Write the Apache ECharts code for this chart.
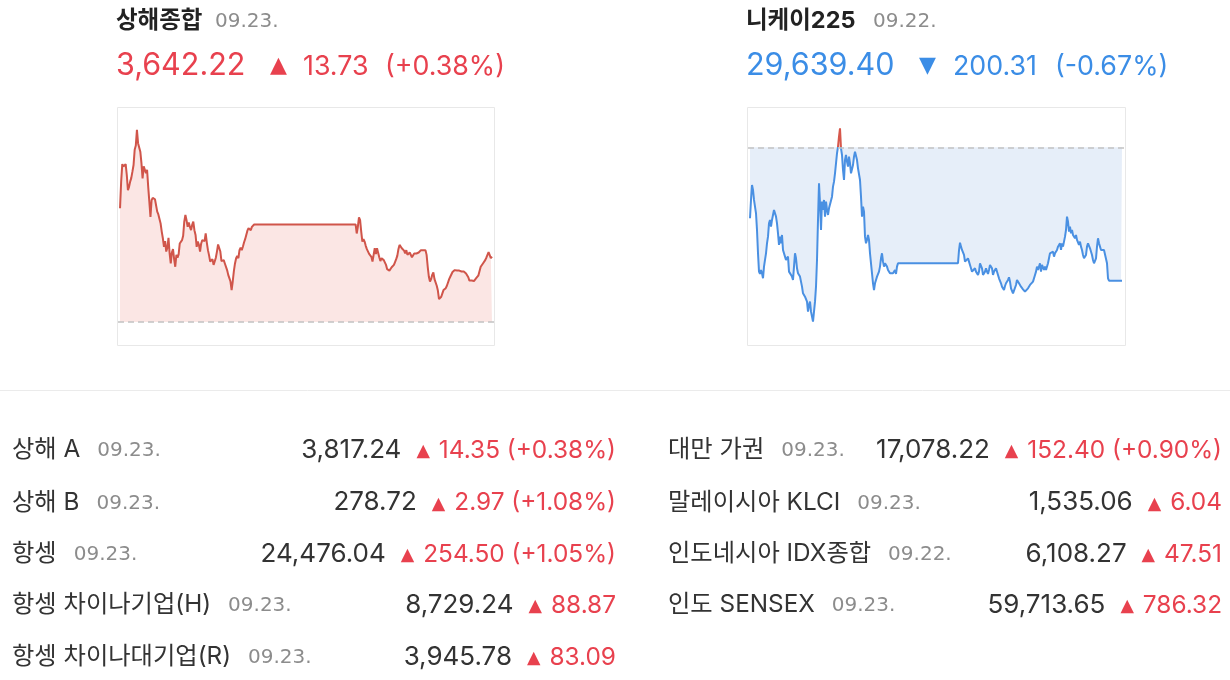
<!DOCTYPE html>
<html><head><meta charset="utf-8">
<script src="https://cdn.jsdelivr.net/npm/echarts@6/dist/echarts.min.js"></script>
<style>html,body{margin:0;padding:0;background:#fff}#c{width:1230px;height:680px}</style>
</head><body><div id="c"></div>
<script>
// ---------- header data ----------
const shTitle = '상해종합', shDate = '09.23.', shPrice = '3,642.22', shChange = '13.73', shPct = '(+0.38%)';
const nkTitle = '니케이225', nkDate = '09.22.', nkPrice = '29,639.40', nkChange = '200.31', nkPct = '(-0.67%)';
const shPrevClose = 3628.49;
const nkPrevClose = 29839.71;

// ---------- Shanghai intraday (minutes from 09:30) ----------
const shAmStart = 0;
const shAm = [3652.4,3658.0,3661.7,3661.2,3660.8,3661.7,3659.4,3656.2,3656.9,3658.0,
3658.8,3660.1,3661.5,3664.7,3665.6,3668.9,3666.1,3665.2,3664.3,3661.9,
3658.7,3661.2,3661.4,3659.8,3660.5,3656.9,3653.8,3650.6,3654.1,3654.6,
3654.5,3654.3,3654.1,3651.7,3651.1,3651.0,3649.2,3647.5,3646.1,3644.3,
3645.5,3643.3,3644.1,3646.2,3642.9,3640.8,3643.1,3643.8,3641.7,3640.1,
3642.6,3642.0,3642.7,3645.0,3644.8,3645.7,3646.6,3649.6,3651.0,3649.9,
3648.5,3649.4,3648.5,3647.8,3648.9,3649.6,3647.8,3646.8,3644.3,3645.4,
3644.7,3643.3,3645.0,3645.7,3646.1,3645.5,3647.1,3645.2,3643.6,3642.5,
3641.2,3640.8,3641.7,3640.5,3641.2,3642.0,3643.3,3644.8,3645.0,3643.3,
3641.3,3641.2,3641.5,3640.8,3640.6,3639.4,3638.4,3637.7,3637.0,3635.2,
3637.0,3639.2,3640.8,3641.9,3642.4,3641.9,3643.6,3644.1,3643.6,3644.3,
3645.2,3645.9,3646.8,3647.7,3648.2,3648.2,3647.8,3648.5,3648.9,3649.0,3649.0];
const shPmStart = 209;
const shPm = [3649.0,3647.1,3648.5,3650.5,3649.9,3647.5,3645.4,3645.9,3645.4,3644.5,
3643.8,3644.0,3642.8,3642.9,3642.2,3641.2,3642.6,3644.0,3642.8,3644.0,
3644.3,3642.1,3641.3,3641.9,3641.9,3641.5,3641.2,3640.5,3639.6,3639.3,
3639.3,3639.4,3640.0,3640.1,3640.5,3641.1,3641.7,3642.4,3643.8,3644.7,
3644.9,3644.0,3643.8,3643.5,3642.9,3643.6,3642.6,3642.4,3643.1,3642.9,
3642.1,3642.1,3642.9,3643.3,3642.9,3643.3,3643.1,3643.5,3643.6,3643.8,
3643.6,3643.3,3643.6,3642.6,3640.1,3638.0,3637.0,3637.5,3638.4,3638.9,
3637.5,3637.2,3636.1,3635.1,3633.3,3632.9,3633.8,3634.5,3635.2,3635.0,
3635.6,3636.1,3636.8,3637.5,3638.0,3638.4,3639.0,3639.3,3639.4,3639.3,
3639.3,3639.4,3639.3,3639.1,3639.1,3639.2,3639.1,3638.7,3638.7,3638.4,
3637.9,3637.2,3637.0,3637.2,3637.0,3637.1,3637.3,3637.7,3638.0,3638.3,
3638.7,3640.1,3640.5,3640.8,3641.2,3641.5,3642.0,3642.6,3643.2,3642.9,3641.9,3642.22];

// ---------- Nikkei intraday (minutes from 09:00) ----------
const nkAmStart = 0;
const nkAm = [29733.1,29760.6,29783.1,29775.6,29760.6,29750.6,29740.6,29715.5,29680.5,29653.0,
29649.5,29655.5,29650.5,29643.0,29660.5,29670.5,29680.5,29695.5,29705.5,29725.5,
29730.6,29720.5,29730.6,29738.1,29745.6,29740.6,29735.6,29725.5,29710.5,29693.0,
29705.5,29695.5,29708.0,29685.5,29688.0,29675.5,29670.5,29673.0,29675.5,29653.0,
29650.5,29655.5,29645.5,29640.5,29660.5,29680.5,29673.0,29658.0,29650.5,29648.0,
29645.5,29638.0,29630.4,29620.4,29617.9,29615.4,29612.9,29607.9,29592.9,29602.9,
29607.9,29592.9,29585.4,29577.9,29592.9,29607.9,29630.4,29670.5,29730.6,29785.6,
29755.6,29715.5,29758.1,29745.6,29760.6,29735.6,29758.1,29745.6,29738.1,29748.1,
29745.6,29750.6,29765.6,29780.6,29788.1,29800.6,29815.6,29830.6,29840.7,29855.7,
29868.2,29838.2,29828.1,29805.6,29790.6,29820.6,29828.1,29818.1,29810.6,29825.6,
29815.6,29800.6,29803.1,29813.1,29825.6,29833.2,29835.7,29820.6,29808.1,29805.6,
29790.6,29765.6,29735.6,29750.6,29743.1,29705.5,29695.5,29700.5,29708.0,29700.5,
29680.5,29665.5,29650.5,29635.4,29625.4,29635.4,29640.5,29645.5,29648.0,29653.0,
29660.5,29673.0,29680.5,29668.0,29660.5,29665.5,29665.5,29660.5,29655.5,29653.0,
29650.5,29649.5,29653.0,29650.5,29653.0,29655.5,29649.5,29660.5,29665.5,29665.5];
const nkPmStart = 208;
const nkPm = [29665.5,29685.0,29696.5,29690.5,29685.5,29688.0,29678.0,29668.0,29665.5,29670.5,
29673.0,29668.0,29663.0,29658.0,29653.0,29650.5,29653.0,29658.0,29653.0,29650.5,
29648.0,29653.0,29665.5,29668.0,29658.0,29648.0,29650.5,29653.0,29658.0,29653.0,
29649.5,29655.5,29663.0,29665.5,29658.0,29648.0,29653.0,29655.5,29658.0,29655.5,
29648.0,29643.0,29640.5,29635.5,29630.4,29627.9,29625.4,29631.4,29635.5,29633.0,
29640.5,29644.5,29638.0,29627.9,29625.4,29620.4,29617.9,29622.9,29632.9,29640.5,
29638.0,29635.5,29633.0,29630.4,29628.9,29626.4,29624.4,29622.9,29620.4,29625.4,
29627.9,29629.4,29633.0,29631.4,29635.5,29638.0,29640.5,29648.0,29653.0,29660.5,
29655.5,29658.0,29665.5,29653.0,29663.0,29665.5,29655.5,29660.5,29655.5,29658.0,
29665.5,29673.0,29680.5,29683.0,29678.0,29683.0,29675.5,29680.5,29683.0,29685.5,
29690.5,29688.0,29695.5,29685.5,29695.5,29690.5,29688.0,29705.5,29715.5,29735.6,
29728.1,29713.1,29720.5,29710.5,29715.5,29708.0,29705.5,29703.0,29708.0,29700.5,
29703.0,29693.0,29698.0,29690.5,29685.5,29678.0,29673.0,29670.5,29678.0,29690.5,
29695.5,29695.5,29688.0,29685.5,29678.0,29670.5,29665.5,29663.0,29673.0,29690.5,
29703.0,29695.5,29690.5,29685.5,29688.0,29683.0,29685.5,29683.0,29685.5,29665.5,
29643.0,29639.4,29639.4,29639.4,29639.4,29639.4,29639.4,29639.4,29639.4,29639.4,
29639.4,29639.4,29639.4,29639.4,29639.4];

// ---------- table data ----------
const leftNames = ['상해 A', '상해 B', '항셍', '항셍 차이나기업(H)', '항셍 차이나대기업(R)'];
const leftDates = ['09.23.', '09.23.', '09.23.', '09.23.', '09.23.'];
const leftValues = ['3,817.24', '278.72', '24,476.04', '8,729.24', '3,945.78'];
const leftChanges = ['14.35 (+0.38%)', '2.97 (+1.08%)', '254.50 (+1.05%)', '88.87', '83.09'];
const rightNames = ['대만 가권', '말레이시아 KLCI', '인도네시아 IDX종합', '인도 SENSEX'];
const rightDates = ['09.23.', '09.23.', '09.22.', '09.23.'];
const rightValues = ['17,078.22', '1,535.06', '6,108.27', '59,713.65'];
const rightChanges = ['152.40 (+0.90%)', '6.04', '47.51', '786.32'];

// ---------- build ----------
function toPairs(start, vals) { return vals.map((v, i) => [start + i, v]); }
const shData = toPairs(shAmStart, shAm).concat(toPairs(shPmStart, shPm));
const nkData = toPairs(nkAmStart, nkAm).concat(toPairs(nkPmStart, nkPm));

const F = "Inter, 'Noto Sans CJK KR', sans-serif";
const FD = "'DejaVu Sans', sans-serif";
const TRI = "'DejaVu Sans', sans-serif";
const RED = '#e8414e', BLUE = '#3b8de6', DARK = '#333333', GRAY = '#8c8c8c';

const graphics = [];
function txt(x, y, text, font, fill, align) {
  graphics.push({type: 'text', x: x, y: y, silent: true,
    style: {text: text, font: font, fill: fill, align: align || 'left', verticalAlign: 'middle'}});
}
// boxes & divider
graphics.push({type: 'rect', shape: {x: 117.5, y: 107.5, width: 377, height: 238}, style: {fill: 'none', stroke: '#e8e8e8', lineWidth: 1}, silent: true});
graphics.push({type: 'rect', shape: {x: 747.5, y: 107.5, width: 378, height: 238}, style: {fill: 'none', stroke: '#e8e8e8', lineWidth: 1}, silent: true});
graphics.push({type: 'line', shape: {x1: 0, y1: 390.5, x2: 1230, y2: 390.5}, style: {stroke: '#ebebeb', lineWidth: 1}, silent: true});

// headers
txt(116, 21, shTitle, 'bold 23.5px ' + F, '#222');
txt(215, 22, shDate, '20px ' + FD, GRAY);
txt(116, 66, shPrice, '30.5px ' + F, RED);
txt(270, 66, '▲', '22px ' + TRI, RED);
txt(303, 67, shChange, '26.8px ' + F, RED);
txt(385, 67, shPct, '26.8px ' + F, RED);

txt(746, 21, nkTitle, 'bold 23.5px ' + F, '#222');
txt(873, 22, nkDate, '20px ' + FD, GRAY);
txt(746, 66, nkPrice, '30.5px ' + F, BLUE);
txt(919, 66, '▼', '22px ' + TRI, BLUE);
txt(953, 67, nkChange, '26.8px ' + F, BLUE);
txt(1055, 67, nkPct, '26.8px ' + F, BLUE);

// table
function row(xName, xRight, y, name, date, value, change) {
  graphics.push({type: 'text', x: xName, y: y, silent: true, style: {
    text: '{n|' + name + '}{d|' + date + '}', align: 'left', verticalAlign: 'middle',
    rich: {n: {font: '24.3px ' + F, fill: DARK, padding: [0, 17, 0, 0], verticalAlign: 'bottom'},
           d: {font: '20px ' + FD, fill: GRAY, verticalAlign: 'bottom', padding: [0, 0, 1, 0]}}}});
  graphics.push({type: 'text', x: xRight, y: y, silent: true, style: {
    text: '{v|' + value + '}{t|▲}{c|' + change + '}', align: 'right', verticalAlign: 'middle',
    rich: {v: {font: '26px ' + F, fill: DARK, padding: [0, 15, 0, 0], verticalAlign: 'bottom'},
           t: {font: '17.5px ' + TRI, fill: RED, verticalAlign: 'bottom', padding: [0, 0, 2, 0]},
           c: {font: '24.4px ' + F, fill: RED, padding: [0, 0, 0, 9], verticalAlign: 'bottom'}}}});
}
const rowYs = [449.7, 502.2, 553.7, 604.9, 656.9];
leftNames.forEach((n, i) => row(12, 616, rowYs[i], n, leftDates[i], leftValues[i], leftChanges[i]));
rightNames.forEach((n, i) => row(668, 1222, rowYs[i], n, rightDates[i], rightValues[i], rightChanges[i]));

const dashed = {color: '#c2c2c2', type: [6, 4], width: 1.5};
const option = {
  animation: false,
  backgroundColor: '#ffffff',
  grid: [
    {left: 118, top: 108, width: 376, height: 236},
    {left: 748, top: 108, width: 377, height: 236}
  ],
  xAxis: [
    {type: 'value', gridIndex: 0, min: -1.8, max: 331.8, show: false},
    {type: 'value', gridIndex: 1, min: -2, max: 375, show: false}
  ],
  yAxis: [
    {type: 'value', gridIndex: 0, min: 3623.86, max: 3673.49, show: false, scale: true},
    {type: 'value', gridIndex: 1, min: 29544.3, max: 29898.7, show: false, scale: true}
  ],
  visualMap: [
    {type: 'piecewise', show: false, seriesIndex: 1, dimension: 1,
     pieces: [{gte: 29000, lt: nkPrevClose, color: '#e6eef9'}, {gte: nkPrevClose, lte: 30500, color: '#f6d6d2'}]},
    {type: 'piecewise', show: false, seriesIndex: 2, dimension: 1,
     pieces: [{gte: 29000, lt: nkPrevClose, color: '#4a90e2'}, {gte: nkPrevClose, lte: 30500, color: '#d6574b'}]}
  ],
  series: [
    {type: 'line', xAxisIndex: 0, yAxisIndex: 0, data: shData, symbol: 'none', silent: true,
     lineStyle: {color: '#d0554a', width: 2}, itemStyle: {color: '#d0554a'},
     areaStyle: {color: '#fbe6e4', opacity: 1, origin: shPrevClose},
     markLine: {symbol: 'none', silent: true, label: {show: false}, lineStyle: dashed, data: [{yAxis: shPrevClose}]}},
    {type: 'line', xAxisIndex: 1, yAxisIndex: 1, data: nkData, symbol: 'none', silent: true, z: 1,
     lineStyle: {opacity: 0, width: 0}, areaStyle: {opacity: 1, origin: nkPrevClose}},
    {type: 'line', xAxisIndex: 1, yAxisIndex: 1, data: nkData, symbol: 'none', silent: true, z: 3,
     lineStyle: {width: 2},
     markLine: {symbol: 'none', silent: true, label: {show: false}, lineStyle: dashed, data: [{yAxis: nkPrevClose}]}}
  ],
  graphic: graphics
};
const chart = echarts.init(document.getElementById('c'));
chart.setOption(option);
</script></body></html>
